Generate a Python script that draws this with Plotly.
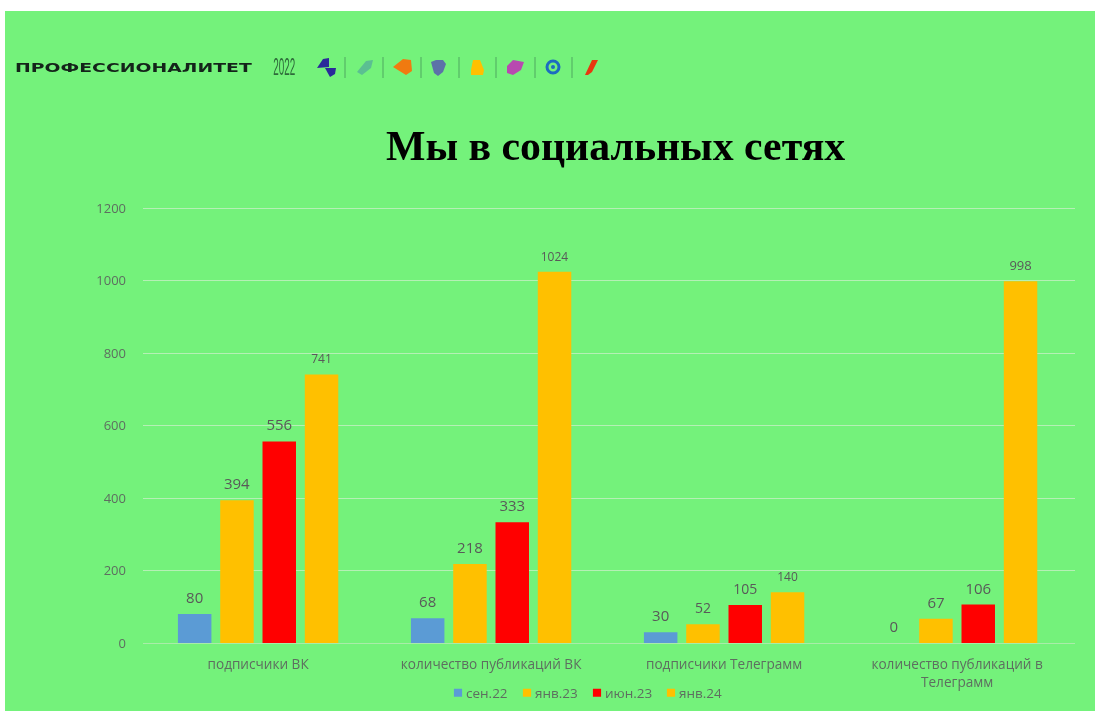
import plotly.graph_objects as go

categories = ["подписчики ВК", "количество публикаций ВК", "подписчики Телеграмм", "количество публикаций в<br>Телеграмм"]
sep22 = [80, 68, 30, 0]
jan23 = [394, 218, 52, 67]
jun23 = [556, 333, 105, 106]
jan24 = [741, 1024, 140, 998]
sizes_sep22 = [15, 15, 15, 15]
sizes_jan23 = [15, 15, 14, 15]
sizes_jun23 = [15, 15, 14, 15]
sizes_jan24 = [12, 12, 12, 13]
series = [("сен.22", sep22, "#5B9BD5", sizes_sep22), ("янв.23", jan23, "#FFC000", sizes_jan23),
          ("июн.23", jun23, "#FF0000", sizes_jun23), ("янв.24", jan24, "#FFC000", sizes_jan24)]

W, H = 1095, 711
L, R, T, B = 143, 20, 207, 68
PW, PH = W - L - R, H - T - B
def px(x): return (x - L) / PW
def py(y): return (H - B - y) / PH

fig = go.Figure()
for name, vals, color, sizes in series:
    fig.add_trace(go.Bar(x=categories, y=vals, name=name, marker=dict(color=color, line_width=0),
                         text=[str(v) for v in vals], textposition="outside", cliponaxis=False,
                         textfont=dict(size=sizes, color="#595959", family="Open Sans, sans-serif")))

shapes = [dict(type="rect", xref="paper", yref="paper", x0=px(5), x1=px(1095), y0=py(11), y1=py(711),
               fillcolor="#74F27B", line_width=0, layer="below")]
def poly(points, color):
    d = "M" + " L".join(f"{px(a):.5f},{py(b):.5f}" for a, b in points) + " Z"
    shapes.append(dict(type="path", xref="paper", yref="paper", path=d, fillcolor=color, line_width=0))
poly([(323,59),(329,58),(329,67),(317,68)], "#2A2A9A")
poly([(325,68),(336,68),(335,74),(330,77)], "#2A2A9A")
poly([(366,61),(373,60),(371,68),(362,75),(357,72)], "#5BBF92")
poly([(393,67),(403,59),(411,60),(412,71),(406,75)], "#F07A10")
poly([(431,62),(436,60),(443,60),(446,64),(443,72),(438,76),(434,73)], "#5C72A8")
poly([(473,60),(480,60),(484,70),(483,75),(471,75),(471,70)], "#FFC000")
poly([(507,66),(513,60),(524,62),(521,70),(513,75),(507,73)], "#B84AB0")
poly([(585,75),(592,60),(598,60),(592,72),(588,75)], "#E8380F")
shapes.append(dict(type="circle", xref="paper", yref="paper", x0=px(547), x1=px(559), y0=py(61), y1=py(73),
                   line=dict(color="#1C6CC0", width=3), fillcolor="rgba(0,0,0,0)"))
shapes.append(dict(type="circle", xref="paper", yref="paper", x0=px(551), x1=px(555), y0=py(65), y1=py(69),
                   fillcolor="#1C6CC0", line_width=0))
for sx in (345, 383, 421, 459, 496, 535, 572):
    shapes.append(dict(type="line", xref="paper", yref="paper", x0=px(sx), x1=px(sx), y0=py(57), y1=py(78),
                       line=dict(color="#4FA860", width=1)))

annotations = [
    dict(text="<b>ПРОФЕССИОНАЛИТЕТ</b>", x=px(133.5), y=py(68), xref="paper", yref="paper", showarrow=False,
         xanchor="center", yanchor="middle",
         font=dict(family="DejaVu Sans", size=12, color="#14241A")),
    dict(text="2022", x=px(284), y=py(67), xref="paper", yref="paper", showarrow=False,
         xanchor="center", yanchor="middle",
         font=dict(family="Liberation Sans Narrow, Liberation Sans", size=11, color="#2E6B3A")),
    dict(text="<b>Мы в социальных сетях</b>", x=px(615), y=py(146), xref="paper", yref="paper", showarrow=False,
         xanchor="center", yanchor="middle",
         font=dict(family="Liberation Serif", size=41.8, color="#000000")),
]

fig.update_layout(
    width=W, height=H, margin=dict(l=L, r=R, t=T, b=B, autoexpand=False),
    paper_bgcolor="#FFFFFF", plot_bgcolor="rgba(0,0,0,0)",
    barmode="group", bargap=0.274, bargroupgap=0.208,
    shapes=shapes, annotations=annotations,
    font=dict(family="Open Sans, sans-serif", color="#595959"),
    legend=dict(orientation="h", x=px(590), xanchor="center", y=py(693), yanchor="middle",
                font=dict(size=13.5, color="#5E6E60"), bgcolor="rgba(0,0,0,0)", traceorder="normal"),
    xaxis=dict(tickfont=dict(size=13.6, color="#5E6E60"), showline=True, linecolor="#A9ECA9", ticks="", showgrid=False,
               tickangle=0, ticklabelstandoff=9, range=[-0.494, 3.506]),
    yaxis=dict(range=[0, 1203], tickvals=[0, 200, 400, 600, 800, 1000, 1200], gridcolor="#B5F0B5", gridwidth=1,
               tickfont=dict(size=13, color="#5E6E60"), zeroline=False, showline=False, ticklabelstandoff=16),
)

post = """
document.documentElement.style.margin='0';document.body.style.margin='0';document.body.style.overflow='hidden';
var gd=document.getElementById('{plot_id}');
gd.querySelectorAll('text.bartext').forEach(function(t){
  t.setAttribute('transform','translate(0,-4) '+(t.getAttribute('transform')||''));
});
var a=gd.querySelectorAll('.annotation-text');
function st(el,s){el.style.transformBox='fill-box';el.style.transformOrigin='center';el.style.transform=s;}
st(a[0],'scale(1.57,1)');
st(a[1],'scale(0.9,2.1)');
var leg=gd.querySelector('.legend');
var left=leg.querySelector('.bg').getBoundingClientRect().left;
var slots=[438,507,577,651];
leg.querySelectorAll('g.traces').forEach(function(g,i){
  var m=/translate\\(([^,]+),\\s*([^)]+)\\)/.exec(g.getAttribute('transform'));
  g.setAttribute('transform','translate('+(slots[i]-left)+','+m[2]+')');
  var tx=g.querySelector('.legendtext');
  tx.setAttribute('x',parseFloat(tx.getAttribute('x'))-12);
  g.querySelectorAll('.legendpoints path').forEach(function(p){st(p,'translateX(20px) scale(0.68)');});
});
gd.style.filter='blur(0.7px)';
"""
fig.write_html("out.html", post_script=post, config=dict(displayModeBar=False))
